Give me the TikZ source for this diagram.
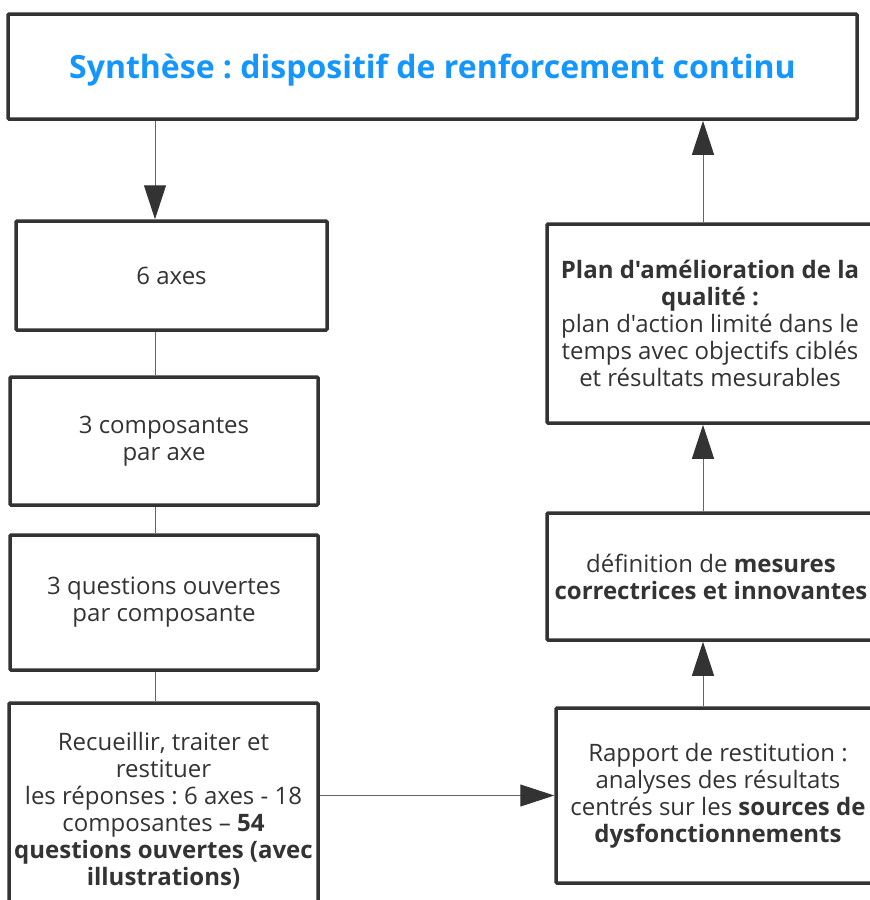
\documentclass[tikz,border=0pt]{standalone}
\usepackage{fontspec}
\setmainfont{Open Sans}[Ligatures=TeXOff]
\usetikzlibrary{arrows.meta,calc}
\definecolor{txt}{RGB}{51,51,51}
\definecolor{ttl}{RGB}{20,150,250}
\definecolor{edge}{RGB}{51,51,51}
\definecolor{conn}{RGB}{100,100,100}
\frenchspacing
\begin{document}
\begin{tikzpicture}[x=1pt,y=-1pt,
  box/.style={draw=edge,line width=3.5pt,rectangle,rounded corners=1pt,align=center,text=txt,
    font=\fontsize{24}{27}\selectfont\frenchspacing,inner sep=0pt},
  link/.style={draw=conn,line width=1pt},
  arr/.style={link,-{Triangle[length=34pt,width=22pt,color=edge]}}]
\clip (0,0) rectangle (870,900);
\fill[white] (0,0) rectangle (870,900);
\node[box,minimum width=849pt,minimum height=105pt,text=ttl,text depth=0pt,
  font=\fontsize{32}{36}\selectfont\bfseries\frenchspacing] (title) at (432.5,66.5)
  {Synthèse : dispositif de renforcement continu};
\node[box,minimum width=311pt,minimum height=109pt] (ax) at (171.5,275.5) {6 axes};
\node[box,minimum width=308pt,minimum height=128pt] (comp) at (164,441) {3 composantes\\par axe};
\node[box,minimum width=308pt,minimum height=135pt] (ques) at (164,602.5) {3 questions ouvertes\\par composante};
\node[box,minimum width=309pt,minimum height=216pt] (rec) at (163.5,811)
  {Recueillir, traiter et\\restituer\\les réponses : 6 axes - 18\\composantes – \textbf{54}\\\textbf{questions ouvertes (avec}\\\textbf{illustrations)}};
\node[box,minimum width=326pt,minimum height=199pt] (plan) at (710,323.5)
  {\textbf{Plan d'amélioration de la}\\\textbf{qualité :}\\plan d'action limité dans le\\temps avec objectifs ciblés\\et résultats mesurables};
\node[box,minimum width=328pt,minimum height=127pt] (def) at (711,576.5)
  {définition de \textbf{mesures}\\\textbf{correctrices et innovantes}};
\node[box,minimum width=324pt,minimum height=175pt] (rap) at (718,795.5)
  {Rapport de restitution :\\analyses des résultats\\centrés sur les \textbf{sources de}\\\textbf{dysfonctionnements}};
\coordinate (cl) at (155,0);
\coordinate (cr) at (703,0);
\draw[arr] (cl |- title.south) -- (cl |- ax.north);
\draw[link] (cl |- ax.south) -- (cl |- comp.north);
\draw[link] (cl |- comp.south) -- (cl |- ques.north);
\draw[link] (cl |- ques.south) -- (cl |- rec.north);
\draw[arr] (rec.east |- rap.west) -- (rap.west);
\draw[arr] (cr |- rap.north) -- (cr |- def.south);
\draw[arr] (cr |- def.north) -- (cr |- plan.south);
\draw[arr] (cr |- plan.north) -- (cr |- title.south);
\end{tikzpicture}
\end{document}
